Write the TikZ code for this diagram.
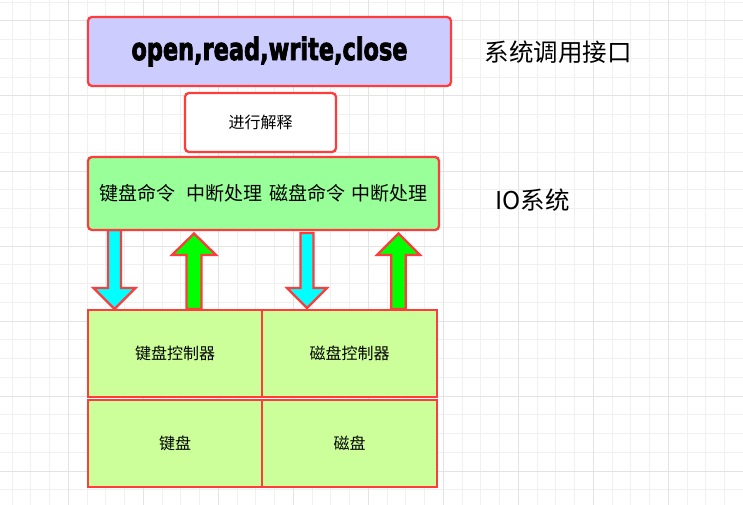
\documentclass[tikz,border=0pt]{standalone}
\usepackage{fontspec}
\usepackage{graphicx}
\newfontfamily\cjk{Noto Sans CJK SC}
\newfontfamily\heavy{DejaVu Sans}[FakeBold=3]
\definecolor{gridminor}{HTML}{F0F0F0}
\definecolor{gridmajor}{HTML}{E3E3E3}
\definecolor{redline}{HTML}{FF3B3B}
\definecolor{apiblue}{HTML}{CCCCFF}
\definecolor{iogreen}{HTML}{99FF99}
\definecolor{devgreen}{HTML}{CCFF99}
\definecolor{downcyan}{HTML}{00FFFF}
\definecolor{upgreen}{HTML}{00FF00}
\tikzset{
  boxbase/.style={draw=redline, line width=2.3pt, inner sep=0pt, outer sep=0pt},
  rbox/.style={boxbase, rounded corners=4pt},
  sbox/.style={boxbase, minimum width=174pt, minimum height=87pt, fill=devgreen,
               font=\cjk\fontsize{16}{16}\selectfont},
  blockarrow/.style={draw=redline, line width=2.3pt, line join=miter},
  sidelabel/.style={font=\cjk\fontsize{24.5}{24.5}\selectfont, inner sep=0pt},
}
\begin{document}
\begin{tikzpicture}[x=1pt,y=-1pt]
\useasboundingbox (0,0) rectangle (743,505);
\fill[white] (0,0) rectangle (743,505);
% grid
\foreach \i in {0,...,39} {
  \draw[gridminor, line width=1pt] (12.05+18.75*\i,0) -- ++(0,505);
}
\foreach \i in {0,...,27} {
  \draw[gridminor, line width=1pt] (0,2.25+18.75*\i) -- ++(743,0);
}
\foreach \i in {0,...,9} {
  \draw[gridmajor, line width=1pt] (68.3+75*\i,0) -- ++(0,505);
}
\foreach \i in {0,...,6} {
  \draw[gridmajor, line width=1pt] (0,21+75*\i) -- ++(743,0);
}
% block arrows
\filldraw[blockarrow, fill=downcyan]
  (108,230) -- (121,230) -- (121,288) -- (135.5,288) -- (114.5,309) -- (93.5,288) -- (108,288) -- cycle;
\filldraw[blockarrow, fill=upgreen]
  (186.5,309) -- (201.5,309) -- (201.5,255) -- (216,255) -- (194,233.5) -- (172,255) -- (186.5,255) -- cycle;
\filldraw[blockarrow, fill=downcyan]
  (300.5,233) -- (313.5,233) -- (313.5,288) -- (327,288) -- (307,308) -- (287,288) -- (300.5,288) -- cycle;
\filldraw[blockarrow, fill=upgreen]
  (391.3,309) -- (405.7,309) -- (405.7,255) -- (420,255) -- (398.5,233.5) -- (377,255) -- (391.3,255) -- cycle;
% boxes
\node[rbox, fill=apiblue, minimum width=363pt, minimum height=69pt] (api) at (269.5,51.5)
  {\resizebox{276pt}{23.5pt}{\heavy\bfseries open,read,write,close}};
\node[rbox, fill=white, minimum width=151pt, minimum height=59pt,
      font=\cjk\fontsize{16}{16}\selectfont] (interp) at (260.5,122.5) {进行解释};
\node[rbox, fill=iogreen, minimum width=351pt, minimum height=73pt,
      font=\cjk\fontsize{19}{19}\selectfont] (io) at (263.5,193.5)
  {键盘命令\hspace{11pt}中断处理\hspace{6.5pt}磁盘命令\hspace{6.5pt}中断处理};
\node[sbox] (kc) at (175,353.5) {键盘控制器};
\node[sbox, minimum width=175pt] (dc) at (349.5,353.5) {磁盘控制器};
\node[sbox] (kb) at (175,443.5) {键盘};
\node[sbox, minimum width=175pt] (db) at (349.5,443.5) {磁盘};
% side labels
\node[sidelabel] (lapi) at (558,52) {系统调用接口};
\node[sidelabel] (lio) at (532.5,200) {IO系统};
\end{tikzpicture}
\end{document}
